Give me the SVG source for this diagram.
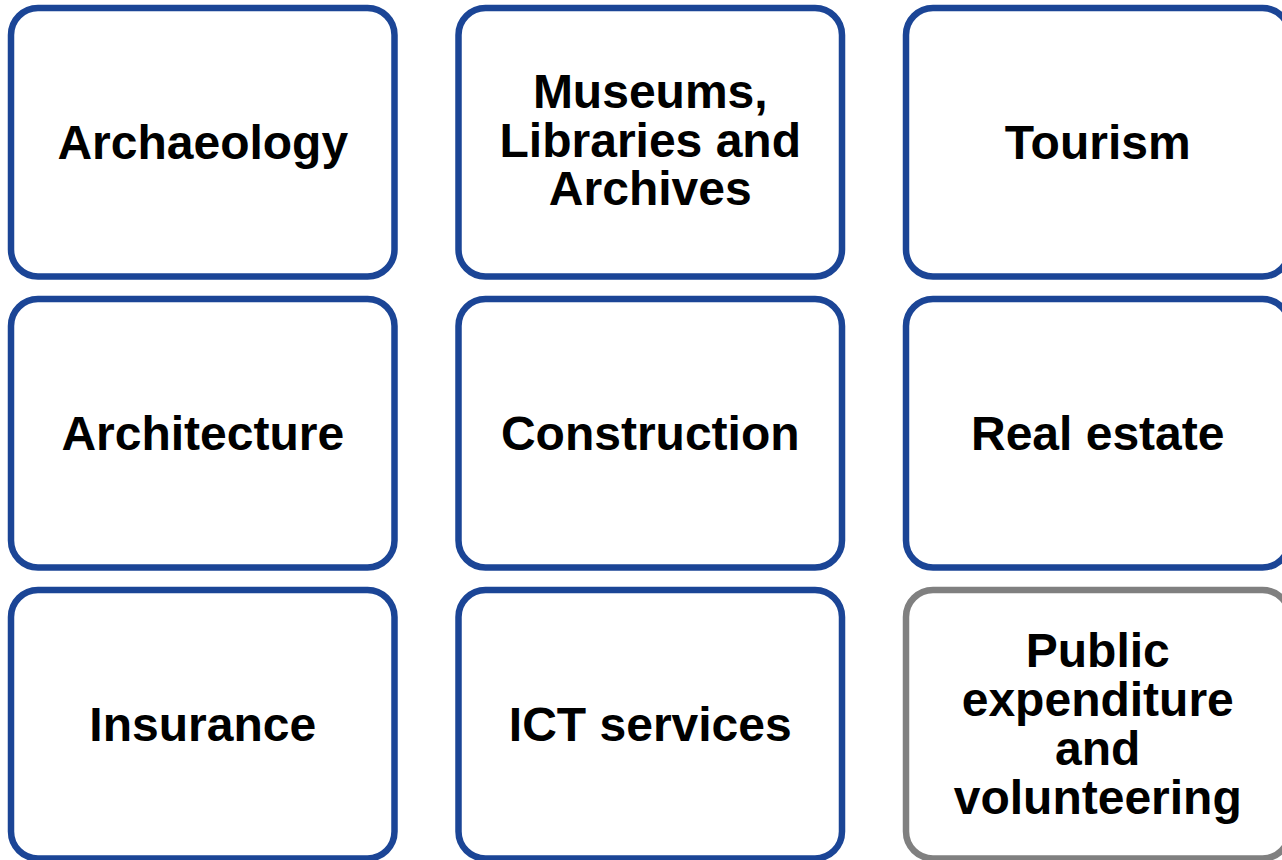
<svg xmlns="http://www.w3.org/2000/svg" width="1282" height="860" viewBox="0 0 1282 860">
  <style>
    .card { fill: #ffffff; stroke: #1b4596; stroke-width: 6.5; }
    .card.grey { stroke: #808080; }
    .label { font-family: "Liberation Sans", Arial, sans-serif; font-weight: bold; font-size: 48px; fill: #000000; text-anchor: middle; }
  </style>
  <rect x="0" y="0" width="1282" height="860" fill="#ffffff"/>

  <!-- Row 1 -->
  <g id="archaeology">
    <rect class="card" x="11" y="8" width="383.5" height="268.5" rx="27"/>
    <text class="label" x="202.75" y="159">Archaeology</text>
  </g>
  <g id="museums">
    <rect class="card" x="458.5" y="8" width="383.5" height="268.5" rx="27"/>
    <text class="label" x="650.25" y="108">Museums,</text>
    <text class="label" x="650.25" y="156.5">Libraries and</text>
    <text class="label" x="650.25" y="205">Archives</text>
  </g>
  <g id="tourism">
    <rect class="card" x="906" y="8" width="383.5" height="268.5" rx="27"/>
    <text class="label" x="1097.75" y="159">Tourism</text>
  </g>

  <!-- Row 2 -->
  <g id="architecture">
    <rect class="card" x="11" y="299" width="383.5" height="268.5" rx="27"/>
    <text class="label" x="202.75" y="450">Architecture</text>
  </g>
  <g id="construction">
    <rect class="card" x="458.5" y="299" width="383.5" height="268.5" rx="27"/>
    <text class="label" x="650.25" y="450">Construction</text>
  </g>
  <g id="real-estate">
    <rect class="card" x="906" y="299" width="383.5" height="268.5" rx="27"/>
    <text class="label" x="1097.75" y="450">Real estate</text>
  </g>

  <!-- Row 3 -->
  <g id="insurance">
    <rect class="card" x="11" y="590" width="383.5" height="268.5" rx="27"/>
    <text class="label" x="202.75" y="741">Insurance</text>
  </g>
  <g id="ict-services">
    <rect class="card" x="458.5" y="590" width="383.5" height="268.5" rx="27"/>
    <text class="label" x="650.25" y="741">ICT services</text>
  </g>
  <g id="public-expenditure">
    <rect class="card grey" x="906" y="590" width="383.5" height="268.5" rx="27"/>
    <text class="label" x="1097.75" y="667">Public</text>
    <text class="label" x="1097.75" y="716">expenditure</text>
    <text class="label" x="1097.75" y="765">and</text>
    <text class="label" x="1097.75" y="814">volunteering</text>
  </g>

  <!-- No connectors in this layout -->
  <g id="connectors"/>
</svg>
